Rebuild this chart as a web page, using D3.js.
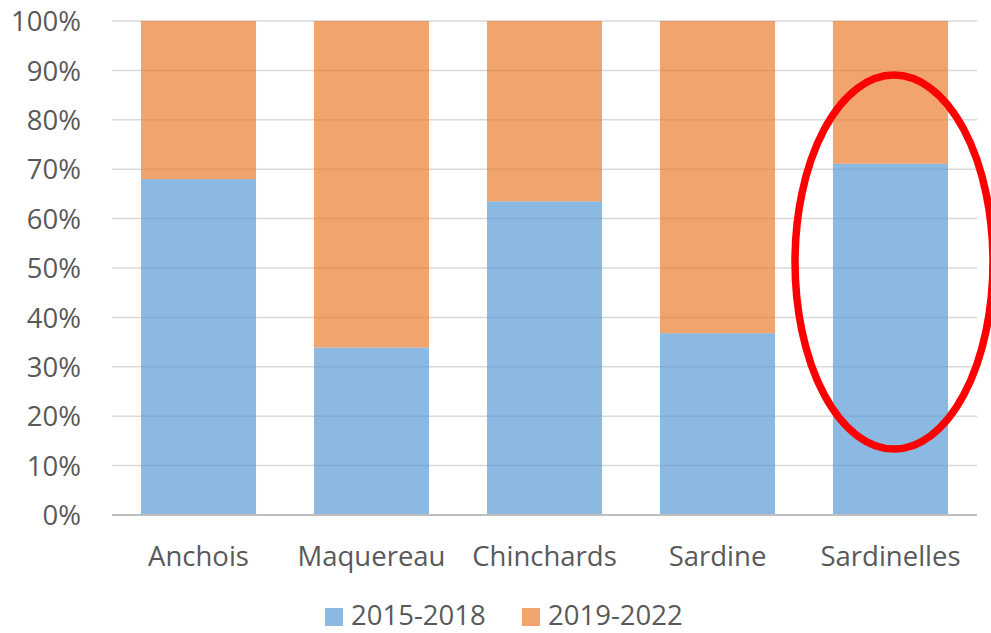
<!DOCTYPE html>
<html><head><meta charset="utf-8">
<script src="https://cdn.jsdelivr.net/npm/d3@7"></script>
<style>body{margin:0;background:#fff;}svg{display:block;}</style>
</head><body>
<svg id="c" width="991" height="633"></svg>
<script>
const categories = ["Anchois","Maquereau","Chinchards","Sardine","Sardinelles"];
const series1Name = "2015-2018";
const series2Name = "2019-2022";
const series1 = [0.68, 0.339, 0.635, 0.368, 0.711];
const series2 = series1.map(v => 1 - v);
const yTicks = [0,0.1,0.2,0.3,0.4,0.5,0.6,0.7,0.8,0.9,1.0];
const highlight = "Sardinelles";

(function(){
const svg = d3.select("#c");
const pLeft = 112, pRight = 977, pTop = 21, pBottom = 515;
const font = "'Open Sans', 'Segoe UI', sans-serif";
const fs = 27.5;
const txt = "#595959";

const x = d3.scaleBand().domain(categories).range([pLeft, pRight]).paddingInner(0.335).paddingOuter(0.1675);
const y = d3.scaleLinear().domain([0,1]).range([pBottom, pTop]);

// gridlines
svg.append("g").selectAll("line").data(yTicks.filter(d=>d>0)).join("line")
  .attr("x1", pLeft).attr("x2", pRight)
  .attr("y1", d=>y(d)).attr("y2", d=>y(d))
  .attr("stroke", "#d9d9d9").attr("stroke-width", 1.5);

// y axis labels
const yAxis = d3.axisLeft(y).tickValues(yTicks).tickFormat(d3.format(".0%")).tickSize(0).tickPadding(31);
const ya = svg.append("g").attr("transform", `translate(${pLeft},0)`).call(yAxis);
ya.select(".domain").remove();
ya.selectAll("text").attr("font-family", font).attr("font-size", fs).attr("fill", txt).attr("dy", "0.35em");

const stack = categories.map((c,i)=>({c, a: series1[i], b: series2[i]}));
svg.append("g").selectAll("rect").data(stack).join("rect")
  .attr("x", d=>x(d.c)).attr("width", x.bandwidth())
  .attr("y", d=>y(d.a)).attr("height", d=>y(0)-y(d.a))
  .attr("fill", "#5b9bd5").attr("fill-opacity", 0.7);
svg.append("g").selectAll("rect").data(stack).join("rect")
  .attr("x", d=>x(d.c)).attr("width", x.bandwidth())
  .attr("y", d=>y(d.a+d.b)).attr("height", d=>y(d.a)-y(d.a+d.b))
  .attr("fill", "#ed7d31").attr("fill-opacity", 0.7);

// x axis line
svg.append("line").attr("x1", pLeft).attr("x2", pRight).attr("y1", pBottom).attr("y2", pBottom)
  .attr("stroke", "#bfbfbf").attr("stroke-width", 2);

// x labels
const xAxis = d3.axisBottom(x).tickSize(0).tickPadding(0);
const xa = svg.append("g").attr("transform", `translate(0,${pBottom})`).call(xAxis);
xa.select(".domain").remove();
xa.selectAll("text").attr("font-family", font).attr("font-size", fs).attr("fill", txt)
  .attr("y", 51).attr("dy", 0);

// legend
const legend = [{n: series1Name, c:"#5b9bd5", x:325}, {n: series2Name, c:"#ed7d31", x:522}];
const lg = svg.append("g");
lg.selectAll("rect").data(legend).join("rect")
  .attr("x", d=>d.x).attr("y", 608).attr("width", 18).attr("height", 18)
  .attr("fill", d=>d.c).attr("fill-opacity", 0.7);
lg.selectAll("text").data(legend).join("text")
  .attr("x", d=>d.x+26).attr("y", 625)
  .attr("font-family", font).attr("font-size", fs).attr("fill", txt).text(d=>d.n);

// highlight ellipse
const cx = x(highlight) + x.bandwidth()/2 + 3.5;
svg.append("ellipse").attr("cx", cx).attr("cy", y(0.512)).attr("rx", 99).attr("ry", 187)
  .attr("fill", "none").attr("stroke", "#ff0000").attr("stroke-width", 7.5);
})();
</script>
</body></html>
